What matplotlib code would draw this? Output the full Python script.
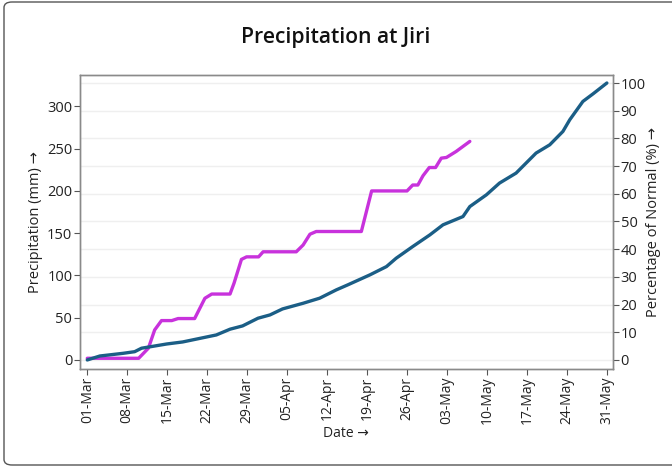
import matplotlib
matplotlib.use("Agg")
import matplotlib.pyplot as plt
import matplotlib.dates as mdates
from matplotlib.patches import FancyBboxPatch
import pandas as pd

plt.rcParams['font.family'] = ['Open Sans', 'DejaVu Sans']

# Normal cumulative precipitation (mm), day offset from 01-Mar
normal_days = [0, 2.2, 6.3, 8.3, 9.5, 13.9, 16.7, 22.6, 25, 27.2, 29.9, 32, 34.2, 37.8,
               40.7, 43.6, 45.6, 49.5, 52.4, 54.1, 57, 60, 62.3, 65.8, 67, 69.9, 72.2,
               75.1, 78.6, 81, 83.3, 84.5, 86.8, 88.6, 91]
normal_mm = [0, 4.7, 7.9, 9.8, 13.9, 18.9, 21.3, 29.6, 36.4, 40.3, 49.4, 53.3, 60.4, 67.1,
             73.1, 82.9, 88.8, 100.7, 110.5, 120.4, 134.2, 148, 159.9, 169.7, 181.5, 195.4,
             209.3, 221.1, 244.8, 254.6, 270.4, 284.2, 305.9, 315, 327.7]

# Observed cumulative precipitation (mm)
obs_days = [0, 9, 10.7, 11.8, 13, 14.8, 15.9, 18.8, 20.6, 21.8, 25, 25.7, 27, 27.9, 30,
            30.8, 36.6, 37.8, 39, 40.1, 48, 49.8, 56, 57, 57.9, 58.8, 59.9, 61, 62, 62.9,
            64.6, 67]
obs_mm = [2, 2, 13.9, 35.5, 46.6, 46.6, 49, 49, 73, 78, 78, 90.8, 119, 122, 122,
          128, 128, 136, 148.8, 152, 152, 200, 200, 207, 207, 218, 227.7, 227.7, 238.8, 239.6,
          246.7, 258.6]

normal_total = 327.7
start = pd.Timestamp("2023-03-01")
tick_dates = pd.date_range("2023-03-01", "2023-05-31", freq="7D")
pct_ticks = list(range(0, 101, 10))
mm_ticks = [0, 50, 100, 150, 200, 250, 300]

nd = start + pd.to_timedelta(normal_days, unit="D")
od = start + pd.to_timedelta(obs_days, unit="D")

fig = plt.figure(figsize=(6.72, 4.67), dpi=100)
fig.patches.append(FancyBboxPatch((4/672, 2/467), 1.2, 463/467,
                                  boxstyle="round,pad=0,rounding_size=0.012",
                                  transform=fig.transFigure, fill=False,
                                  edgecolor="#555555", linewidth=1.0))

ax = fig.add_axes([0.119, 0.2099, 0.793, 0.629])
ax2 = ax.twinx()
ax.set_zorder(ax2.get_zorder() + 1)
ax.patch.set_visible(False)

ax.plot(nd, normal_mm, color="#1b5e86", lw=2.4, solid_capstyle="round", solid_joinstyle="round", zorder=3)
ax.plot(od, obs_mm, color="#c832dc", lw=2.4, solid_capstyle="round", solid_joinstyle="round", zorder=2)

ymin, ymax = -10.66, 336.9
ax.set_ylim(ymin, ymax)
ax2.set_ylim(ymin * 100 / normal_total, ymax * 100 / normal_total)
ax.set_xlim(start - pd.Timedelta(days=1.28), start + pd.Timedelta(days=92.05))

ax.set_yticks(mm_ticks)
ax2.set_yticks(pct_ticks)
ax.set_xticks(tick_dates)
ax.xaxis.set_major_formatter(mdates.DateFormatter("%d-%b"))
for lab in ax.get_xticklabels():
    lab.set_rotation(90)

ax2.grid(axis="y", color="#efefef", linewidth=1.0)
ax.grid(False)

for a in (ax, ax2):
    for s in a.spines.values():
        s.set_color("#8a8a8a")
        s.set_linewidth(1.0)
    a.tick_params(colors="#555555", labelcolor="#222222", labelsize=10.5, length=4,
                  width=0.8, pad=1.5)
ax.tick_params(axis="x", labelsize=10)

ax.set_ylabel("Precipitation (mm) →", fontsize=10.5, color="#222222", labelpad=3)
ax2.set_ylabel("Percentage of Normal (%) →", fontsize=10.5, color="#222222", labelpad=0)
ax.set_xlabel("Date →", fontsize=10, color="#222222", labelpad=1)
fig.text(0.5, 1 - 38/467, "Precipitation at Jiri", ha="center", va="center",
         fontsize=15.2, fontweight="semibold", color="#111111")

fig.savefig("out.png", dpi=100)
